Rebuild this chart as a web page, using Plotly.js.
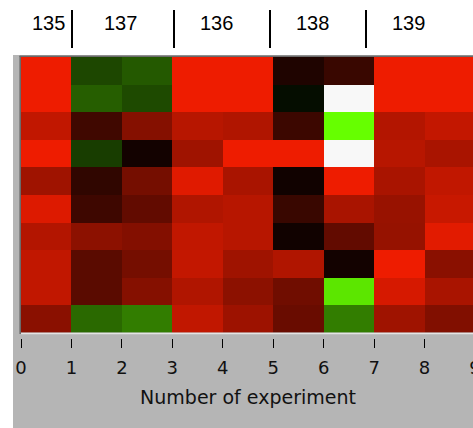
<!DOCTYPE html>
<html>
<head>
<meta charset="utf-8">
<script src="https://cdn.plot.ly/plotly-3.0.1.min.js"></script>
<style>
html,body{margin:0;padding:0;overflow:hidden;background:#fff;}
#chart{width:478px;height:428px;}
</style>
</head>
<body>
<div id="chart"></div>
<script>
// Experiments (columns) and genes (rows)
var experiments = [0.5, 1.5, 2.5, 3.5, 4.5, 5.5, 6.5, 7.5, 8.5];
var rows = [1, 2, 3, 4, 5, 6, 7, 8, 9, 10];
var tickValues = [0, 1, 2, 3, 4, 5, 6, 7, 8, 9];
var tickLabels = ['0', '1', '2', '3', '4', '5', '6', '7', '8', '9'];
var groupLabels = ['135', '137', '136', '138', '139'];

// Expression values: positive = red, negative = green, 1.1 = saturated (white)
var row1  = [1.00, -0.28, -0.35, 1.00, 1.00, 0.13, 0.24, 1.00, 1.00];
var row2  = [1.00, -0.37, -0.29, 1.00, 1.00, -0.05, 1.10, 1.00, 1.00];
var row3  = [0.81, 0.27, 0.56, 0.77, 0.74, 0.25, -1.00, 0.75, 0.82];
var row4  = [1.00, -0.24, 0.08, 0.67, 1.00, 1.00, 1.10, 0.77, 0.71];
var row5  = [0.67, 0.20, 0.49, 0.94, 0.71, 0.07, 1.00, 0.71, 0.81];
var row6  = [0.93, 0.26, 0.41, 0.74, 0.77, 0.24, 0.71, 0.64, 0.84];
var row7  = [0.75, 0.59, 0.55, 0.81, 0.77, 0.07, 0.41, 0.63, 0.95];
var row8  = [0.81, 0.38, 0.49, 0.82, 0.67, 0.74, 0.08, 1.00, 0.58];
var row9  = [0.81, 0.38, 0.56, 0.74, 0.59, 0.47, -0.90, 0.90, 0.71];
var row10 = [0.58, -0.41, -0.49, 0.81, 0.66, 0.44, -0.49, 0.67, 0.54];

// ---- layout helpers (pixel -> paper) ----
var L = 21, PW = 454, T = 57, PH = 428 - 57;
function px(x) { return (x - L) / PW; }
function py(y) { return (428 - y) / PH; }
var groupLabelPx = [48, 120, 216, 312, 408];
var separatorPx = [72, 174, 270, 366];

var zmin = -1, zmax = 1.1;
var redStop = (1 - zmin) / (zmax - zmin);
var colorscale = [
  [0, 'rgb(102,255,0)'],
  [(0 - zmin) / (zmax - zmin), 'rgb(0,0,0)'],
  [redStop, 'rgb(238,28,0)'],
  [redStop + 0.001, 'rgb(248,248,248)'],
  [1, 'rgb(248,248,248)']
];

var trace = {
  type: 'heatmap',
  x: experiments,
  y: rows,
  z: [row1, row2, row3, row4, row5, row6, row7, row8, row9, row10],
  zmin: zmin, zmax: zmax,
  colorscale: colorscale,
  showscale: false,
  hoverinfo: 'skip'
};

var shapes = [
  {type: 'rect', xref: 'paper', yref: 'paper', x0: px(13), x1: px(480), y0: py(430), y1: py(55),
   fillcolor: '#b5b5b5', line: {width: 0}, layer: 'below'},
  {type: 'line', xref: 'paper', yref: 'paper', x0: px(20.2), x1: px(20.2), y0: py(334), y1: py(56),
   line: {color: '#6a6a6a', width: 1.6}, layer: 'above'},
  {type: 'line', xref: 'paper', yref: 'paper', x0: px(19.5), x1: px(480), y0: py(56.2), y1: py(56.2),
   line: {color: '#6a6a6a', width: 1.6}, layer: 'above'},
  {type: 'line', xref: 'paper', yref: 'paper', x0: px(21), x1: px(480), y0: py(333.6), y1: py(333.6),
   line: {color: '#e4e4e4', width: 1.5}, layer: 'above'}
];
separatorPx.forEach(function (s) {
  shapes.push({type: 'line', xref: 'paper', yref: 'paper', x0: px(s), x1: px(s), y0: py(48), y1: py(10),
    line: {color: '#000', width: 2}});
});

var annotations = groupLabels.map(function (g, i) {
  return {text: g, xref: 'paper', yref: 'paper', x: px(groupLabelPx[i]), y: py(23),
    xanchor: 'center', yanchor: 'middle', showarrow: false,
    font: {family: 'Liberation Sans, Arial, sans-serif', size: 20, color: '#000'}};
});

var layout = {
  width: 478, height: 428,
  margin: {l: L, r: 478 - L - PW, t: T, b: 0, pad: 0},
  paper_bgcolor: '#ffffff',
  plot_bgcolor: '#b5b5b5',
  showlegend: false,
  xaxis: {
    range: [0, 9], anchor: 'free', position: py(338),
    tickmode: 'array', tickvals: tickValues, ticktext: tickLabels,
    ticks: 'outside', ticklen: 9, tickwidth: 1, tickcolor: '#000',
    ticklabelstandoff: 4, ticklabeloverflow: 'allow',
    showline: false, showgrid: false, zeroline: false, automargin: false,
    tickfont: {family: 'DejaVu Sans, sans-serif', size: 18, color: '#111'},
    title: {text: 'Number of experiment', font: {family: 'DejaVu Sans, sans-serif', size: 19, color: '#111'}, standoff: 14}
  },
  yaxis: {
    domain: [py(332.5), 1], autorange: 'reversed', visible: false,
    showgrid: false, zeroline: false
  },
  shapes: shapes,
  annotations: annotations
};

Plotly.newPlot('chart', [trace], layout, {displayModeBar: false, staticPlot: true});
</script>
</body>
</html>
